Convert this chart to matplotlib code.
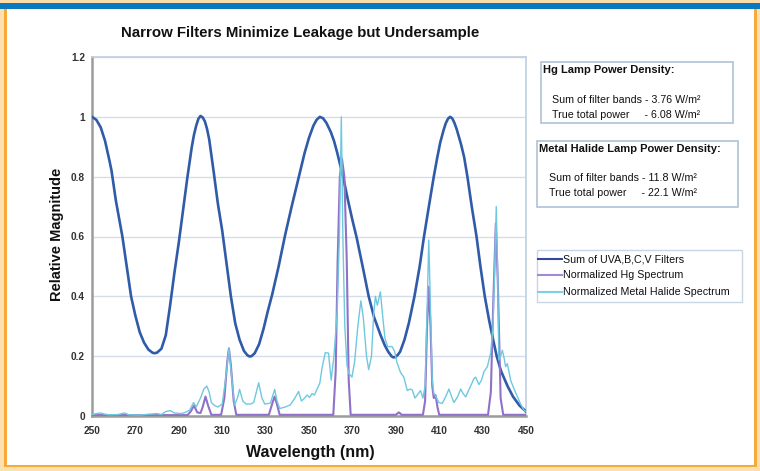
import matplotlib
matplotlib.use("Agg")
import matplotlib.pyplot as plt
from matplotlib.patches import Rectangle
from matplotlib.lines import Line2D

# ---------------- data ----------------
filt_wl = [250, 252, 254, 256, 258, 259, 261, 264, 266, 268, 270, 272, 274, 276, 278, 279, 280,
           282, 284, 286, 288, 290, 292, 294, 295, 296, 297, 298, 299, 300, 301, 302, 303, 304,
           306, 308, 310, 312, 314, 316, 318, 320, 321.5, 322.5, 323.5, 325, 327, 329, 331, 333,
           336, 339, 342, 345, 348, 350, 352, 353.5, 355, 356.5, 358, 360, 361.5, 363, 365.7,
           368, 370, 372, 375, 377.5, 380, 383, 385, 386.5, 388, 388.8, 389.8, 391, 392, 394,
           396, 398.6, 401, 403, 405, 407.5, 409, 410.5, 412, 413, 414, 415, 416, 417, 418, 420,
           421.5, 423, 425, 427.2, 429, 431, 433, 435, 436.5, 438.5, 441.5, 444, 447, 450]
filt_val = [1.00, 0.99, 0.965, 0.92, 0.855, 0.82, 0.72, 0.60, 0.50, 0.40, 0.335, 0.28, 0.245,
            0.222, 0.211, 0.21, 0.212, 0.225, 0.27, 0.37, 0.48, 0.58, 0.69, 0.80, 0.85, 0.90,
            0.94, 0.97, 0.993, 1.003, 0.998, 0.985, 0.96, 0.925, 0.82, 0.71, 0.62, 0.51, 0.40,
            0.31, 0.255, 0.218, 0.204, 0.199, 0.2, 0.21, 0.24, 0.29, 0.35, 0.405, 0.50, 0.605,
            0.70, 0.79, 0.88, 0.93, 0.97, 0.99, 1.0, 0.995, 0.98, 0.95, 0.92, 0.88, 0.80, 0.72,
            0.655, 0.595, 0.49, 0.40, 0.33, 0.27, 0.235, 0.215, 0.2, 0.196, 0.197, 0.205, 0.215,
            0.255, 0.31, 0.40, 0.50, 0.60, 0.69, 0.80, 0.86, 0.915, 0.955, 0.978, 0.993, 1.0,
            0.995, 0.98, 0.96, 0.91, 0.865, 0.80, 0.70, 0.60, 0.50, 0.40, 0.32, 0.25, 0.20, 0.15,
            0.10, 0.065, 0.035, 0.015]

hg_wl = [250, 280, 294, 295.5, 297, 298.5, 300, 301, 302.3, 303.5, 305, 309.5, 311, 312.3, 313.1,
         314, 315.3, 316.5, 331.5, 333, 334.1, 335.2, 336.5, 361.2, 362.3, 363.2, 364.2, 365.2,
         366.3, 367.4, 368.3, 369.2, 390, 391.4, 392.8, 402.5, 403.5, 404.4, 405.2, 406, 406.8,
         407.5, 408.3, 409.2, 410, 432.5, 433.8, 435, 436.1, 437, 438.3, 439.5, 450]
hg_val = [0.003, 0.003, 0.003, 0.015, 0.035, 0.012, 0.01, 0.03, 0.065, 0.035, 0.004, 0.004, 0.06,
          0.18, 0.226, 0.17, 0.05, 0.004, 0.004, 0.04, 0.065, 0.04, 0.004, 0.004, 0.15, 0.52,
          0.80, 0.86, 0.80, 0.52, 0.12, 0.004, 0.004, 0.012, 0.004, 0.004, 0.05, 0.30, 0.432,
          0.30, 0.10, 0.06, 0.07, 0.03, 0.004, 0.004, 0.08, 0.40, 0.644, 0.45, 0.06, 0.004, 0.004]

mh_wl = [250, 252, 254, 256, 258, 262, 265, 267, 272, 276, 280, 282, 284, 286, 288, 291, 293, 295,
         296.8, 298, 300, 301.5, 302.9, 304, 305, 306.5, 308, 310, 311.5, 313.1, 314.5, 315.7,
         317, 318, 319.5, 321, 323, 324.5, 326.8, 328.3, 329.6, 332.2, 334.2, 335.3, 336.5, 339,
         341.4, 343.5, 345.2, 346.5, 348, 349.1, 350.3, 351.4, 352.5, 353.7, 355, 356, 357.5,
         359, 360.2, 361.5, 363, 364, 364.9, 365.6, 366.5, 367.5, 368.3, 369.8, 371, 372.5,
         373.9, 375, 376.5, 377.5, 378.8, 379.8, 380.6, 381.5, 382.9, 384, 385, 386.2, 388.3,
         389.5, 390.5, 392.2, 393.7, 395.3, 396.5, 397.6, 398.8, 399.9, 401.4, 402.5, 403.5,
         404.4, 405.2, 406, 406.8, 407.5, 408.5, 409.8, 411.4, 413, 414.5, 415.7, 416.8, 418.5,
         419.9, 421, 422.2, 423.5, 424.5, 426, 426.8, 428.3, 429.5, 430.6, 432.2, 433.7, 434.8,
         435.6, 436.3, 437, 437.5, 438.3, 439.1, 440, 440.6, 441.4, 442.9, 444.5, 446, 447.5,
         449, 450]
mh_val = [0.005, 0.008, 0.01, 0.006, 0.004, 0.005, 0.01, 0.004, 0.003, 0.006, 0.008, 0.005, 0.015,
          0.018, 0.01, 0.008, 0.012, 0.02, 0.045, 0.03, 0.06, 0.09, 0.10, 0.08, 0.045, 0.035, 0.03,
          0.04, 0.12, 0.226, 0.12, 0.037, 0.06, 0.089, 0.05, 0.04, 0.04, 0.045, 0.111, 0.06, 0.04,
          0.043, 0.089, 0.05, 0.025, 0.03, 0.037, 0.06, 0.082, 0.05, 0.06, 0.07, 0.062, 0.075,
          0.07, 0.09, 0.11, 0.16, 0.212, 0.21, 0.12, 0.2, 0.35, 0.6, 1.0, 0.6, 0.3, 0.17, 0.143,
          0.13, 0.18, 0.3, 0.385, 0.33, 0.2, 0.155, 0.2, 0.34, 0.4, 0.37, 0.415, 0.33, 0.26,
          0.232, 0.232, 0.215, 0.18, 0.145, 0.13, 0.085, 0.09, 0.087, 0.06, 0.07, 0.085, 0.06,
          0.1, 0.35, 0.588, 0.35, 0.12, 0.076, 0.065, 0.045, 0.042, 0.065, 0.09, 0.065, 0.045,
          0.065, 0.09, 0.075, 0.064, 0.085, 0.1, 0.125, 0.13, 0.105, 0.12, 0.148, 0.165, 0.21,
          0.3, 0.5, 0.70, 0.45, 0.187, 0.2, 0.22, 0.19, 0.165, 0.175, 0.12, 0.09, 0.065, 0.04,
          0.02, 0.015]

x_ticks = [250, 270, 290, 310, 330, 350, 370, 390, 410, 430, 450]
y_ticks = [0, 0.2, 0.4, 0.6, 0.8, 1.0, 1.2]
y_tick_labels = ["0", "0.2", "0.4", "0.6", "0.8", "1", "1.2"]

title = "Narrow Filters Minimize Leakage but Undersample"
series_names = ["Sum of UVA,B,C,V Filters", "Normalized Hg Spectrum",
                "Normalized Metal Halide Spectrum"]
hg_box = ["Hg Lamp Power Density:", "Sum of filter bands - 3.76 W/m\u00b2",
          "True total power     - 6.08 W/m\u00b2"]
mh_box = ["Metal Halide Lamp Power Density:", "Sum of filter bands - 11.8 W/m\u00b2",
          "True total power     - 22.1 W/m\u00b2"]

# ---------------- figure ----------------
W, H = 760, 471
fig = plt.figure(figsize=(W / 100, H / 100), dpi=100)
fig.patch.set_facecolor("white")

def fx(px):
    return px / W

def fy(py):
    return 1 - py / H

def frect(x0, y0, x1, y1, **kw):
    r = Rectangle((fx(x0), fy(y1)), fx(x1) - fx(x0), fy(y0) - fy(y1),
                  transform=fig.transFigure, **kw)
    fig.patches.append(r)

# page frame
frect(0, 0, W, 4, facecolor="#FCDCA8", edgecolor="none", zorder=0)
frect(0, 3, W, 9, facecolor="#0A78BE", edgecolor="none", zorder=1)
frect(0, 9, 4, H, facecolor="#FCE0B0", edgecolor="none", zorder=0)
frect(4, 9, 7, H, facecolor="#F6AA3A", edgecolor="none", zorder=0)
frect(0, 467, W, H, facecolor="#FCE0B0", edgecolor="none", zorder=0)
frect(4, 465, W - 4, 467, facecolor="#F6AA3A", edgecolor="none", zorder=0)
frect(W - 3, 9, W, H, facecolor="#FCE0B0", edgecolor="none", zorder=0)
frect(W - 6, 9, W - 3, 467, facecolor="#F6AA3A", edgecolor="none", zorder=0)

narrow = ["Liberation Sans Narrow", "Liberation Sans", "DejaVu Sans"]
sans = ["Liberation Sans", "DejaVu Sans"]

ax = fig.add_axes([fx(92), fy(416), fx(526) - fx(92), fy(57) - fy(416)])
ax.set_xlim(250, 450)
ax.set_ylim(0, 1.2)
ax.set_xticks(x_ticks)
ax.set_yticks(y_ticks)
ax.set_yticklabels(y_tick_labels)
for lbl in ax.get_xticklabels() + ax.get_yticklabels():
    lbl.set_family(sans)
    lbl.set_fontweight("bold")
    lbl.set_fontsize(7.3)
    lbl.set_color("#333333")
ax.tick_params(axis="x", length=0, pad=7)
ax.tick_params(axis="y", length=0, pad=5)
ax.grid(axis="y", color="#D3DEEA", lw=1.0)
ax.set_axisbelow(True)
for s in ["top", "right"]:
    ax.spines[s].set_color("#BDD0E2")
    ax.spines[s].set_linewidth(1.2)
for s in ["left", "bottom"]:
    ax.spines[s].set_color("#9C9C9C")
    ax.spines[s].set_linewidth(1.8)

c_sum, c_hg, c_mh = "#2F5BA8", "#8F72C8", "#6FC8E0"
ax.plot(filt_wl, filt_val, color=c_sum, lw=1.9, zorder=3, solid_joinstyle="round")
ax.plot(hg_wl, hg_val, color=c_hg, lw=1.5, zorder=4)
ax.plot(mh_wl, mh_val, color=c_mh, lw=1.0, zorder=5)

# titles / labels
fig.text(fx(300), fy(33), title, family=narrow, fontweight="bold", fontsize=10.8,
         ha="center", va="center", color="#111111")
fig.text(fx(310), fy(452), "Wavelength (nm)", family=sans, fontweight="bold", fontsize=11.5,
         ha="center", va="center", color="#111111")
fig.text(fx(57), fy(234), "Relative Magnitude", family=sans, fontweight="bold", fontsize=10.5,
         ha="center", va="center", rotation=90, color="#111111")

# info boxes
box_edge = "#AFC2D6"
fs_box = 7.7
frect(541, 62, 733, 123, facecolor="white", edgecolor=box_edge, lw=1.2, zorder=2)
fig.text(fx(543), fy(70), hg_box[0], family=sans, fontweight="bold", fontsize=8,
         ha="left", va="center", color="#111111")
fig.text(fx(552), fy(100), hg_box[1], family=sans, fontsize=fs_box, ha="left", va="center",
         color="#111111")
fig.text(fx(552), fy(115), hg_box[2], family=sans, fontsize=fs_box, ha="left", va="center",
         color="#111111")

frect(537, 141, 738, 207, facecolor="white", edgecolor=box_edge, lw=1.2, zorder=2)
fig.text(fx(539), fy(149), mh_box[0], family=sans, fontweight="bold", fontsize=8,
         ha="left", va="center", color="#111111")
fig.text(fx(549), fy(178), mh_box[1], family=sans, fontsize=fs_box, ha="left", va="center",
         color="#111111")
fig.text(fx(549), fy(193), mh_box[2], family=sans, fontsize=fs_box, ha="left", va="center",
         color="#111111")

# legend
frect(537, 250, 742, 302, facecolor="white", edgecolor="#C8D6E4", lw=1.0, zorder=2)
leg_cols = ["#33489A", "#A08AD8", "#7ED0E6"]
leg_y = [259, 275, 292]
for name, col, yy in zip(series_names, leg_cols, leg_y):
    fig.lines.append(Line2D([fx(538), fx(562)], [fy(yy), fy(yy)], color=col, lw=1.5,
                            transform=fig.transFigure, zorder=3))
    fig.text(fx(563), fy(yy), name, family=sans, fontsize=fs_box, ha="left", va="center",
             color="#111111", zorder=3)

fig.savefig("out.png", dpi=100, facecolor=fig.get_facecolor())
